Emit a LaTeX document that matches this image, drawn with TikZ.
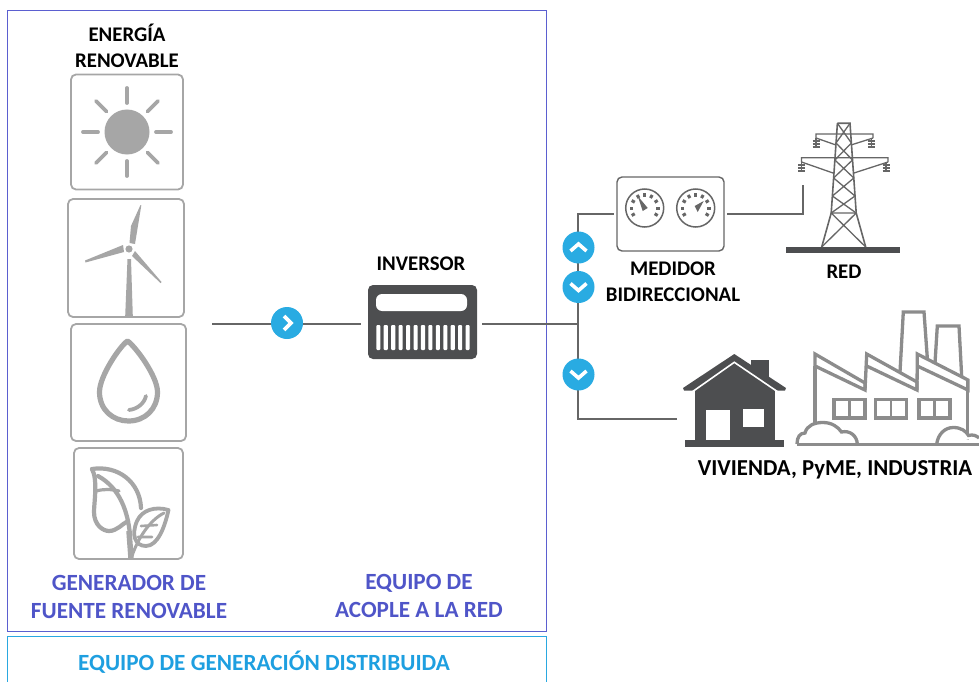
\documentclass[tikz,border=0pt]{standalone}
\usepackage{fontspec}
\setmainfont{Carlito}
\usepackage{xcolor}
\definecolor{icon-gray}{HTML}{A6A6A6}
\definecolor{dark-gray}{HTML}{4D4E50}
\definecolor{wire-gray}{HTML}{666666}
\definecolor{mill-gray}{HTML}{8C8C8C}
\definecolor{flow-blue}{HTML}{29ABE2}
\definecolor{group-blue}{HTML}{5B5FD0}
\definecolor{group-text}{HTML}{4F55C8}
\definecolor{dist-blue}{HTML}{2AA8E0}
\definecolor{dist-text}{HTML}{1E9FE0}
\tikzset{
    source-box/.style = {draw=icon-gray, fill=white, line width=1.8, rectangle, rounded corners=5, inner sep=0pt, outer sep=0pt},
    meter-box/.style = {draw=wire-gray, fill=white, line width=1.4, rectangle, rounded corners=5, inner sep=0pt, outer sep=0pt},
    inverter-box/.style = {fill=dark-gray, rectangle, rounded corners=5, inner sep=0pt, outer sep=0pt},
    wire/.style = {draw=wire-gray, line width=1.5},
    icon-line/.style = {draw=icon-gray, line width=3.6, line cap=round, line join=round},
    tower-line/.style = {draw=wire-gray, line width=1.3},
    mill-line/.style = {draw=mill-gray, line width=3.3, line join=miter},
    flow-dot/.style = {circle, fill=flow-blue, minimum size=32, inner sep=0pt},
    flow-right/.style = {flow-dot, path picture={\draw[white, line width=3.6] (path picture bounding box.center) ++(-3,-7) -- ++(7,7) -- ++(-7,7);}},
    flow-up/.style = {flow-dot, path picture={\draw[white, line width=3.6] (path picture bounding box.center) ++(-8,3.5) -- ++(8,-7) -- ++(8,7);}},
    flow-down/.style = {flow-dot, path picture={\draw[white, line width=3.6] (path picture bounding box.center) ++(-8,-3.5) -- ++(8,7) -- ++(8,-7);}},
    label-text/.style = {text=black, font=\fontsize{20.8}{26}\selectfont\bfseries, align=center, inner sep=0pt},
    group-label/.style = {text=group-text, font=\fontsize{23.2}{28}\selectfont\bfseries, align=center, inner sep=0pt},
}

\begin{document}
\begin{tikzpicture}[x=1pt, y=-1pt]
\useasboundingbox (0,0) rectangle (979,682);

% groups
\node[draw=group-blue, line width=0.9, minimum width=539, minimum height=621, inner sep=0pt] (generation) at (276.5,320.5) {};
\draw[dist-blue, line width=0.9] (7,682) -- (7,636) -- (546,636) -- (546,682);
\node[text=dist-text, font=\fontsize{23.2}{26}\selectfont\bfseries, inner sep=0pt] (distributed) at (264,662) {EQUIPO DE GENERACIÓN DISTRIBUIDA};

% sources
\node[label-text] (renewable) at (127,45.5) {ENERGÍA\\RENOVABLE};
\node[source-box, minimum width=112, minimum height=115] (sun) at (127,132) {};
\node[source-box, minimum width=116, minimum height=118] (wind) at (126,258) {};
\node[source-box, minimum width=115, minimum height=117] (water) at (128.5,382.5) {};
\node[source-box, minimum width=109, minimum height=111] (biomass) at (128.5,503.5) {};
\node[group-label] (generator) at (129,597) {GENERADOR DE\\FUENTE RENOVABLE};

\fill[icon-gray] (sun.center) circle (22.5);
\foreach \a in {0,45,...,315}
    \draw[icon-line, line width=3.8] ([shift={(\a:29)}]sun.center) -- ([shift={(\a:44)}]sun.center);

\fill[icon-gray] (127.5,259) -- (131,259) -- (132.8,316) -- (125.2,316) -- cycle;
\fill[icon-gray] (129,249) circle (3.6);
\fill[icon-gray] (129.5,243) -- (131,226) -- (140.5,205) -- (141.3,205.5) -- (135,244) -- cycle;
\fill[icon-gray] (123,245) -- (85,260.5) -- (85.5,262.5) -- (124,252) -- cycle;
\fill[icon-gray] (135,251) -- (161.5,282) -- (160.5,283) -- (132,256) -- cycle;

\draw[icon-line, line width=5.2] (127.5,341) .. controls (120,346) and (99.5,376) .. (99.5,392) .. controls (99.5,410) and (113,421) .. (128.5,421) .. controls (145,421) and (157.5,409) .. (157.5,392) .. controls (157.5,376) and (135,346) .. (127.5,341) -- cycle;
\draw[icon-line, line width=3.8] (129,410) .. controls (137,409) and (144,404) .. (146,396);

\draw[icon-line, line width=4.2] (92,469) .. controls (118,465) and (140,482) .. (141,508);
\draw[icon-line, line width=4.2] (92,469) .. controls (98,480) and (94,503) .. (94,512) .. controls (94,525) and (103,531) .. (109,531) .. controls (117,531) and (122,524) .. (128,521);
\draw[icon-line, line width=4.2] (98,476) .. controls (120,488) and (128,512) .. (130,535);
\draw[icon-line, line width=3.2] (96,491) .. controls (104,489) and (110,489) .. (119,491);
\draw[icon-line, line width=5.5, line cap=butt] (129,531) -- (131,558);
\draw[icon-line, line width=3.8] (168.5,510) .. controls (155,506) and (142,510) .. (137,521) .. controls (131,535) and (135,546) .. (146,546) .. controls (158,546) and (165,526) .. (168.5,510) -- cycle;
\draw[icon-line, line width=3] (164,513) .. controls (150,520) and (138,538) .. (132,556);
\draw[icon-line, line width=2.6] (141,526) -- (157,525) (138,537) -- (152,537);

% inverter
\node[label-text] (inverter-label) at (421,264) {INVERSOR};
\node[inverter-box, minimum width=109, minimum height=74] (inverter) at (422.5,322) {};
\fill[white, rounded corners=6] (376,294) rectangle (467,311);
\foreach \k in {0,...,12}
    \fill[white, rounded corners=1] ({376.3+7.44*\k},325) rectangle ({380.4+7.44*\k},350);

% meter
\node[meter-box, minimum width=107, minimum height=74] (meter) at (670.5,214) {};
\node[label-text] (meter-label) at (673,282) {MEDIDOR\\BIDIRECCIONAL};
\foreach \cx/\tipx/\tipy/\bxa/\bya/\bxb/\byb in {644.7/-7/-12/-2/3/3/0, 695.7/8/-7/-1/-2/2/4} {
    \draw[wire-gray, line width=1.5] (\cx,208) circle (19);
    \foreach \a in {-30,0,...,210}
        \draw[wire-gray, line width=3] ({\cx+11.5*cos(\a)},{208-11.5*sin(\a)}) -- ({\cx+15*cos(\a)},{208-15*sin(\a)});
    \fill[wire-gray] ({\cx+\tipx},{208+\tipy}) -- ({\cx+\bxa},{208+\bya}) -- ({\cx+\bxb},{208+\byb}) -- cycle;
}

% grid tower
\node[label-text] (grid-label) at (844,272) {RED};
\fill[dark-gray] (786,246.7) rectangle (899.5,252.7);
\draw[tower-line, line width=1.6] (837.4,123.3) -- (850,123.3) -- (856.2,213) -- (865.7,247) (837.4,123.3) -- (831.2,213) -- (821.7,247);
\foreach \ya/\wa/\yb/\wb in {123.3/6.3/143/7.7, 143/7.7/160/8.8, 160/8.8/178/10.1, 178/10.1/196/11.3, 196/11.3/213/12.5}
    \draw[tower-line] ({843.7-\wa},\ya) -- ({843.7+\wb},\yb) ({843.7+\wa},\ya) -- ({843.7-\wb},\yb);
\draw[tower-line] (831.2,213) -- (856.2,213) (831.2,213) -- (865.7,247) (856.2,213) -- (821.7,247);
\draw[tower-line] (816,138) -- (816,134) -- (873,134) -- (873,138) (816,138) -- (836,145) (873,138) -- (851,145);
\draw[tower-line] (801.5,162) -- (801.5,157.7) -- (888,157.7) -- (888,162) (801.5,162) -- (833,173) (888,162) -- (854,173);
\foreach \ix/\iy in {816/138, 871.5/138, 801.7/162, 886/162} {
    \draw[tower-line] (\ix,\iy) -- (\ix,{\iy+10});
    \foreach \s in {3,6,9}
        \draw[tower-line] ({\ix-3.5},{\iy+\s}) -- ({\ix+3.5},{\iy+\s});
}

% connectors
\coordinate (source-out) at (212,324);
\coordinate (junction) at (578,324);
\coordinate (tower-in) at (803,185);
\coordinate (home-in) at (677,419);
\draw[wire, shorten >=7] (source-out) -- (inverter.west |- source-out);
\draw[wire, shorten <=5] (inverter.east |- junction) -- (junction);
\draw[wire, shorten >=3] (home-in) -| (junction) |- (meter);
\draw[wire, shorten <=3] (meter) -| (tower-in);
\node[flow-right] (flow-in) at (287,323) {};
\node[flow-up] (flow-export) at (578.5,247.5) {};
\node[flow-down] (flow-import) at (578.5,287) {};
\node[flow-down] (flow-home) at (578.5,374.5) {};

% house
\fill[dark-gray] (750.7,360) rectangle (769,385);
\fill[dark-gray] (734.3,354) -- (786,388) -- (785,390.5) -- (774,390.5) -- (695,390.5) -- (684,390.5) -- (683,388) -- cycle;
\fill[dark-gray] (695,385) rectangle (775,441);
\fill[dark-gray] (685,440) rectangle (784,446.7);
\draw[white, line width=1.6] (692,392) -- (734.3,362.3) -- (778,392);
\fill[white] (706,410) rectangle (730,440);
\fill[white] (742.7,409) rectangle (764,426.7);

% factory
\draw[mill-line] (900,372) -- (903.3,312) -- (924,312) -- (927.3,358);
\draw[mill-line] (935,363) -- (937.3,326) -- (959,326) -- (961.7,377);
\draw[mill-line, fill=white] (815,443) -- (815,354) -- (865,383) -- (865,390) -- (815,366);
\draw[mill-line, fill=white] (865,390) -- (866.7,354) -- (917,382) -- (917,390) -- (866.7,366);
\draw[mill-line, fill=white] (917,390) -- (917.3,354) -- (968,380) -- (968,390) -- (917.3,366);
\draw[mill-line] (815,366) -- (815,443) (967.3,380) -- (967.3,440);
\foreach \wx in {834,875.5,919} {
    \draw[mill-line, line width=3.8] (\wx,399.5) rectangle ({\wx+31},418);
    \draw[mill-line, line width=2.6] ({\wx+15.5},399.5) -- ({\wx+15.5},418);
}
\draw[mill-line, fill=white] (797,444) .. controls (797,437) and (800,433) .. (805,433) .. controls (807,425) and (815,422.5) .. (823,422.5) .. controls (832,422.5) and (838,427) .. (841.5,432) .. controls (850,430) and (857,436) .. (857.3,444);
\draw[mill-line, fill=white] (936.7,444) .. controls (938,434) and (945,427.5) .. (953.3,427.5) .. controls (961,427.5) and (966,431) .. (968.5,435.5) .. controls (973,434) and (977,436) .. (979,438);
\draw[mill-line] (797,444.3) -- (979,444.3);
\node[label-text, font=\fontsize{22.8}{26}\selectfont\bfseries] (consumers) at (835,470) {VIVIENDA, PyME, INDUSTRIA};

\node[group-label] (coupling) at (419,596) {EQUIPO DE\\ACOPLE A LA RED};
\end{tikzpicture}
\end{document}
